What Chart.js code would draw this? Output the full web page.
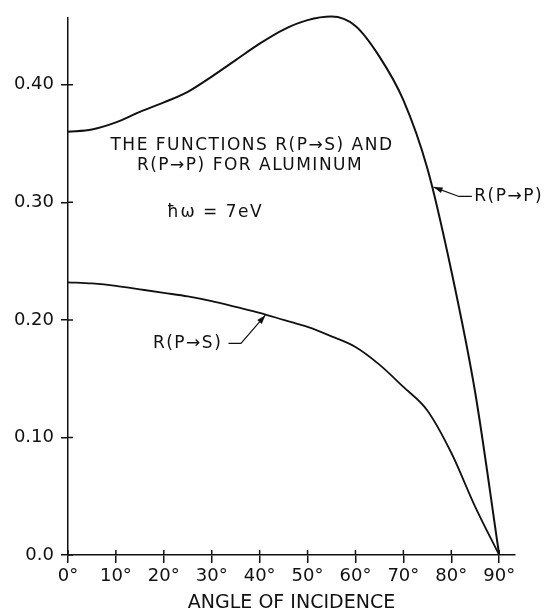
<!DOCTYPE html>
<html>
<head>
<meta charset="utf-8">
<script src="https://cdn.jsdelivr.net/npm/chart.js@4"></script>
<style>
  body { margin: 0; background: #fff; }
  #wrap { width: 550px; height: 614px; }
</style>
</head>
<body>
<div id="wrap"><canvas id="chart"></canvas></div>
<script>
// Data
const angles = [0, 5, 10, 15, 20, 25, 30, 35, 40, 45, 50, 55, 60, 65, 70, 75, 80, 85, 90];
const rPtoP = [0.360, 0.362, 0.368, 0.377, 0.385, 0.394, 0.407, 0.421, 0.435, 0.447, 0.455, 0.458, 0.450, 0.424, 0.387, 0.329, 0.242, 0.138, 0.0];
const rPtoS = [0.232, 0.231, 0.229, 0.226, 0.223, 0.220, 0.216, 0.211, 0.206, 0.200, 0.194, 0.186, 0.177, 0.162, 0.143, 0.123, 0.087, 0.041, 0.0];
const xTicks = [0, 10, 20, 30, 40, 50, 60, 70, 80, 90];
const yTicks = [0, 0.1, 0.2, 0.3, 0.4];
const yTickLabels = ['0.0', '0.10', '0.20', '0.30', '0.40'];

const INK = '#111';
const FONT = 'DejaVu Sans';

// Inner half of the tick marks, plus the text notes and leader arrows
const notesPlugin = {
    id: 'notes',
    afterDraw(chart) {
        const ctx = chart.ctx;
        const xs = chart.scales.x, ys = chart.scales.y;
        const ca = chart.chartArea;
        const px = v => xs.getPixelForValue(v);
        const py = v => ys.getPixelForValue(v);
        ctx.save();
        ctx.strokeStyle = INK;
        ctx.lineWidth = 1.5;
        ctx.beginPath();
        xTicks.forEach(t => { ctx.moveTo(px(t), ca.bottom); ctx.lineTo(px(t), ca.bottom - 5); });
        yTicks.forEach(t => { ctx.moveTo(ca.left, py(t)); ctx.lineTo(ca.left + 5, py(t)); });
        ctx.stroke();

        ctx.fillStyle = INK;
        ctx.textBaseline = 'middle';
        ctx.font = '17px ' + FONT;
        ctx.letterSpacing = '1.5px';
        ctx.textAlign = 'center';
        ctx.fillText('THE FUNCTIONS R(P\u2192S) AND', px(38.4), py(0.3485));
        ctx.fillText('R(P\u2192P) FOR ALUMINUM', px(38.0), py(0.331));
        ctx.fillText('\u0127\u03c9 = 7eV', px(30.7), py(0.291));

        // leader arrows: [text anchor, elbow, tip]
        const arrow = (label, textX, textY, align, startX, elbowX, elbowY, tipX, tipY) => {
            ctx.textAlign = align;
            ctx.fillText(label, px(textX), py(textY));
            ctx.beginPath();
            ctx.lineWidth = 1.2;
            ctx.moveTo(px(startX), py(elbowY));
            ctx.lineTo(px(elbowX), py(elbowY));
            ctx.lineTo(px(tipX), py(tipY));
            ctx.stroke();
            const a = Math.atan2(py(tipY) - py(elbowY), px(tipX) - px(elbowX));
            const L = 9, W = 3;
            const tx = px(tipX), ty = py(tipY);
            ctx.beginPath();
            ctx.moveTo(tx, ty);
            ctx.lineTo(tx - L * Math.cos(a) + W * Math.sin(a), ty - L * Math.sin(a) - W * Math.cos(a));
            ctx.lineTo(tx - L * Math.cos(a) - W * Math.sin(a), ty - L * Math.sin(a) + W * Math.cos(a));
            ctx.closePath();
            ctx.fill();
        };
        arrow('R(P\u2192P)', 84.8, 0.305, 'left', 84.3, 81.6, 0.305, 76.3, 0.313);
        arrow('R(P\u2192S)', 32.2, 0.180, 'right', 33.5, 36.1, 0.180, 41.2, 0.204);
        ctx.restore();
    }
};

new Chart(document.getElementById('chart').getContext('2d'), {
    type: 'line',
    data: {
        labels: angles,
        datasets: [
            {
                label: 'R(P→P)',
                data: angles.map((a, i) => ({ x: a, y: rPtoP[i] })),
                borderColor: INK,
                borderWidth: 2,
                pointRadius: 0,
                fill: false,
                clip: false,
                cubicInterpolationMode: 'monotone'
            },
            {
                label: 'R(P→S)',
                data: angles.map((a, i) => ({ x: a, y: rPtoS[i] })),
                borderColor: INK,
                borderWidth: 1.8,
                pointRadius: 0,
                fill: false,
                clip: false,
                cubicInterpolationMode: 'monotone'
            }
        ]
    },
    options: {
        responsive: true,
        maintainAspectRatio: false,
        animation: false,
        layout: { padding: { top: 13, right: 35, left: 0, bottom: 0 } },
        plugins: { legend: { display: false }, tooltip: { enabled: false } },
        scales: {
            x: {
                type: 'linear',
                min: 0,
                max: 93.3,
                afterBuildTicks: s => { s.ticks = xTicks.map(v => ({ value: v })); },
                afterFit: s => { s.height = 59; },
                border: { color: INK, width: 1.5 },
                grid: { drawOnChartArea: false, drawTicks: true, tickLength: 8, color: INK, lineWidth: 1.5 },
                ticks: {
                    color: INK,
                    padding: 3,
                    maxRotation: 0,
                    font: { family: FONT, size: 18 },
                    callback: v => v + '\u00b0'
                },
                title: {
                    display: true,
                    text: 'ANGLE OF INCIDENCE',
                    color: INK,
                    font: { family: FONT, size: 19 },
                    padding: { top: 0, bottom: 0 }
                }
            },
            y: {
                min: 0,
                max: 0.457,
                afterBuildTicks: s => { s.ticks = yTicks.map(v => ({ value: v })); },
                afterFit: s => { s.width = 68; },
                border: { color: INK, width: 1.5 },
                grid: { drawOnChartArea: false, drawTicks: true, tickLength: 7, color: INK, lineWidth: 1.5 },
                ticks: {
                    color: INK,
                    padding: 7,
                    font: { family: FONT, size: 18 },
                    callback: (v, i) => yTickLabels[i]
                }
            }
        }
    },
    plugins: [notesPlugin]
});
</script>
</body>
</html>
